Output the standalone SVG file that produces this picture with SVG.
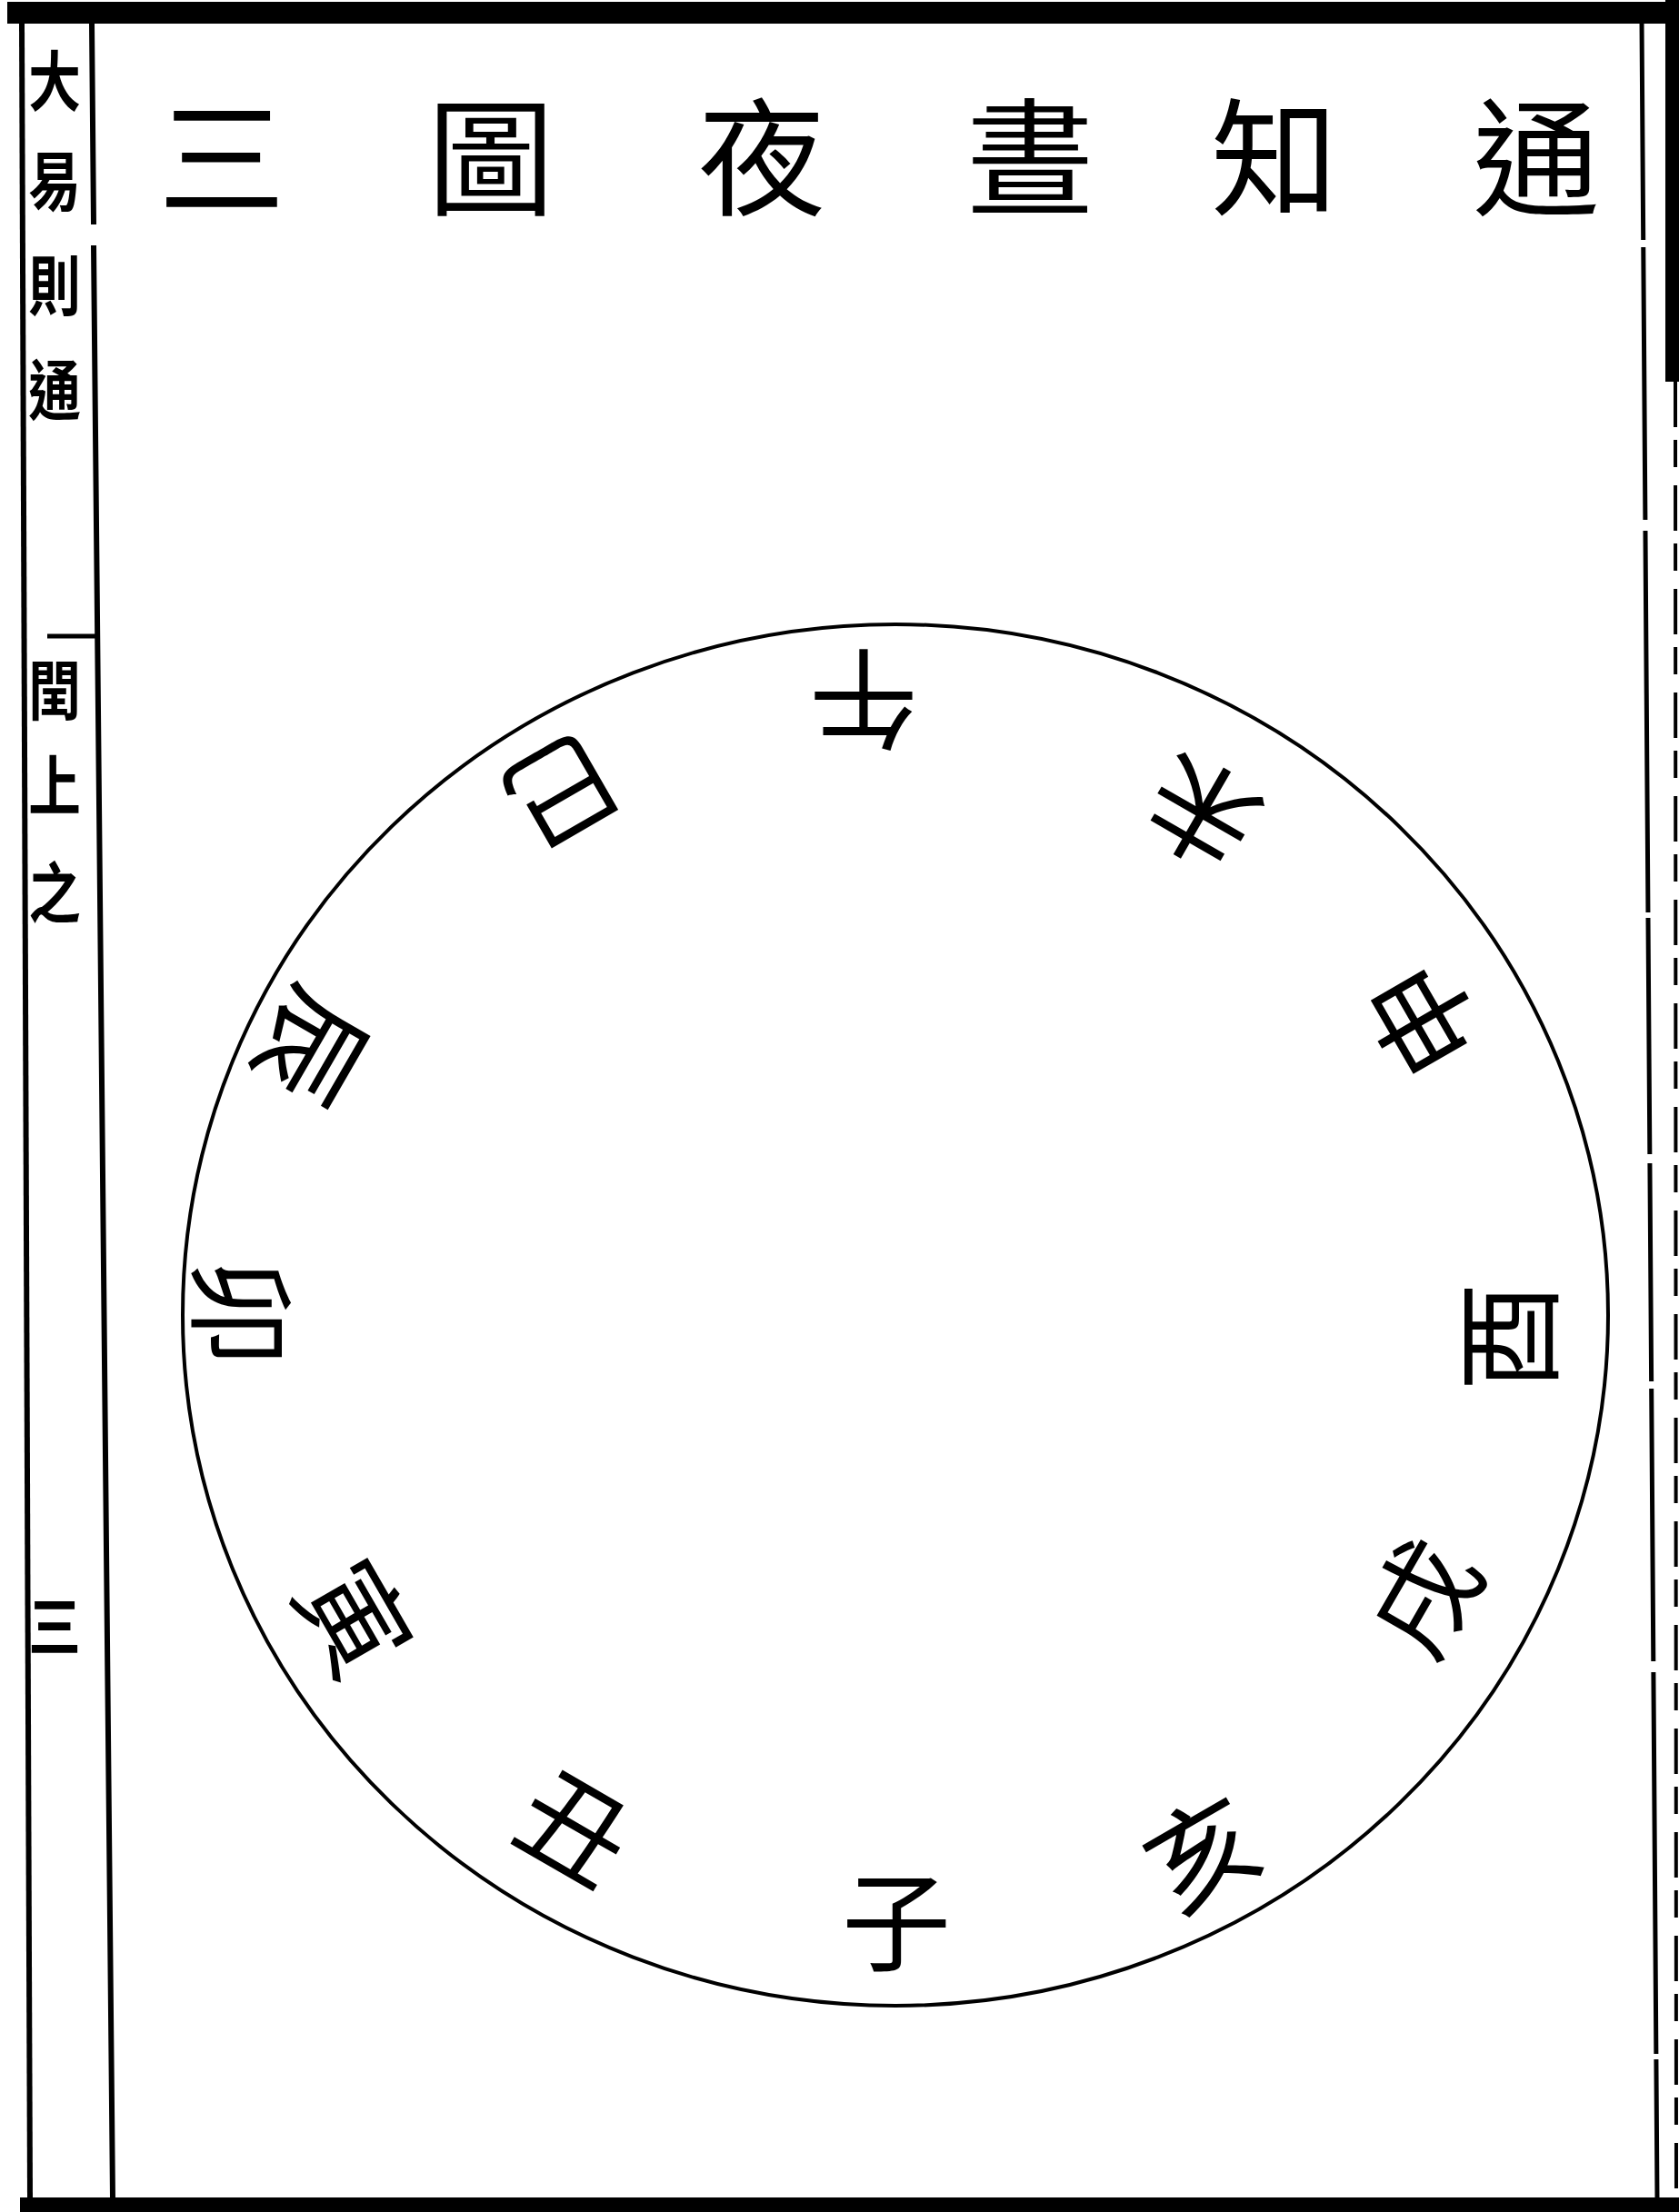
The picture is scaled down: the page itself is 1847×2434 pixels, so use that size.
<svg xmlns="http://www.w3.org/2000/svg" width="1847" height="2434" viewBox="0 0 1847 2434">
<style>
.t{font-family:"Noto Sans CJK TC","Noto Sans CJK SC",sans-serif;fill:#000;text-anchor:middle;dominant-baseline:central}
.title{font-size:140px}
.br{font-size:120px}
.mg{font-size:72px;font-weight:bold}
.ln{stroke:#000;fill:none}
</style>
<rect width="1847" height="2434" fill="#fff"/>
<g id="frame">
<rect x="8" y="2" width="1839" height="24" fill="#000"/>
<rect x="22" y="2418" width="1825" height="16" fill="#000"/>
<path class="ln" d="M24 26 L33 2420" stroke-width="6"/>
<path class="ln" d="M101 26 L103 247 M103 270 L124 2420" stroke-width="6"/>
<path class="ln" d="M52 700 L107 700" stroke-width="5"/>
<path class="ln" d="M1806 24 L1823 2420" stroke-width="5" stroke-dasharray="240 8 300 12 420 6 260 10"/>
<rect x="1832" y="0" width="15" height="420" fill="#000"/>
<path class="ln" d="M1843 420 L1844 2420" stroke-width="4" stroke-dasharray="50 14 30 20"/>
</g>
<g id="margin">
<g transform="translate(60,0) scale(0.8,1)">
<text class="t mg" x="0" y="85">大</text>
<text class="t mg" x="0" y="195">易</text>
<text class="t mg" x="0" y="310">則</text>
<text class="t mg" x="0" y="425">通</text>
<text class="t mg" x="0" y="755">閏</text>
<text class="t mg" x="0" y="860">上</text>
<text class="t mg" x="0" y="978">之</text>
<text class="t mg" x="0" y="1785">三</text>
</g>
</g>
<g id="title">
<text class="t title" x="244" y="165">三</text>
<text class="t title" x="540" y="165">圖</text>
<text class="t title" x="838" y="165">夜</text>
<text class="t title" x="1133" y="165">晝</text>
<text class="t title" x="1402" y="165">知</text>
<text class="t title" x="1690" y="165">通</text>
</g>
<g id="dial">
<ellipse class="ln" cx="985" cy="1447" rx="784" ry="760" stroke-width="4"/>
</g>
<g id="branches">
<g id="zi"><text class="t br" x="986" y="2108" transform="rotate(0 986 2108)">子</text></g>
<g id="chou"><text class="t br" x="636" y="2005" transform="rotate(30 636 2005)">丑</text></g>
<g id="yin"><text class="t br" x="396" y="1777" transform="rotate(60 396 1777)">寅</text></g>
<g id="mao"><text class="t br" x="272" y="1444" transform="rotate(90 272 1444)">卯</text></g>
<g id="chen"><text class="t br" x="349" y="1156" transform="rotate(120 349 1156)">辰</text></g>
<g id="si"><text class="t br" x="621" y="877" transform="rotate(150 621 877)">巳</text></g>
<g id="wu"><text class="t br" x="950" y="776" transform="rotate(180 950 776)">午</text></g>
<g id="wei"><text class="t br" x="1319" y="900" transform="rotate(210 1319 900)">未</text></g>
<g id="shen"><text class="t br" x="1560" y="1125" transform="rotate(240 1560 1125)">申</text></g>
<g id="you"><text class="t br" x="1653" y="1471" transform="rotate(270 1653 1471)">酉</text></g>
<g id="xu"><text class="t br" x="1560" y="1754" transform="rotate(300 1560 1754)">戌</text></g>
<g id="hai"><text class="t br" x="1319" y="2033" transform="rotate(330 1319 2033)">亥</text></g>
</g>
</svg>
